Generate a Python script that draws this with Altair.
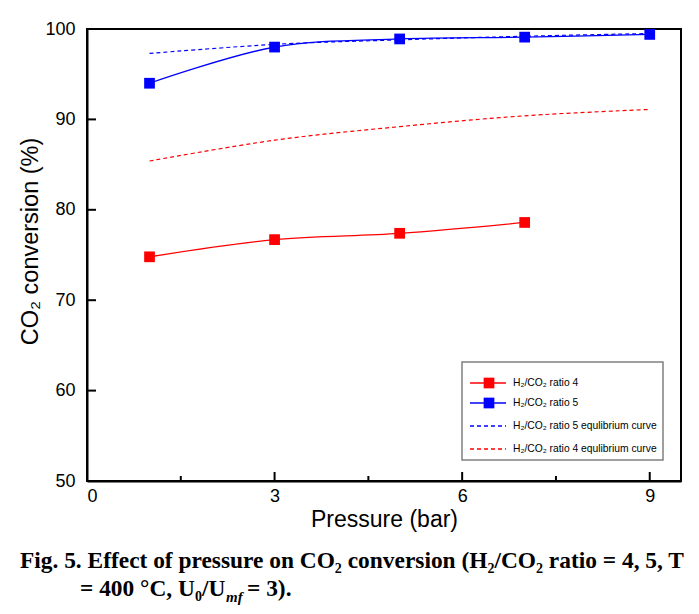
import altair as alt
import pandas as pd

# ---- data ----
pressure_r4 = [1, 3, 5, 7]
conv_r4 = [74.8, 76.7, 77.4, 78.6]
pressure_r5 = [1, 3, 5, 7, 9]
conv_r5 = [94.0, 98.0, 98.9, 99.1, 99.4]
pressure_eq = [1, 3, 5, 7, 9]
eq_r5 = [97.3, 98.3, 98.8, 99.2, 99.5]
eq_r4 = [85.4, 87.7, 89.2, 90.4, 91.1]
x_labels = [0, 3, 6, 9]
x_major = [3, 6, 9]
x_minor = [1.5, 4.5, 7.5]
y_labels = [50, 60, 70, 80, 90, 100]
y_major = [60, 70, 80, 90]
legend_labels = [
    "H₂/CO₂ ratio 4",
    "H₂/CO₂ ratio 5",
    "H₂/CO₂ ratio 5 equlibrium curve",
    "H₂/CO₂ ratio 4 equlibrium curve",
]
caption_line1 = "Fig. 5. Effect of pressure on CO₂ conversion (H₂/CO₂ ratio = 4, 5, T"
caption_line2a = "= 400 °C, U₀/U"
caption_line2b = "mf"
caption_line2c = "= 3)."

W, H = 594, 452
RED = "#ff0000"
BLUE = "#0000ff"
FONT = "Liberation Sans"
SERIF = "Liberation Serif"

xs = alt.Scale(domain=[0, 9.5], nice=False, zero=False)
ys = alt.Scale(domain=[50, 100], nice=False, zero=False)

df4 = pd.DataFrame({"p": pressure_r4, "c": conv_r4})
df5 = pd.DataFrame({"p": pressure_r5, "c": conv_r5})
dfe5 = pd.DataFrame({"p": pressure_eq, "c": eq_r5})
dfe4 = pd.DataFrame({"p": pressure_eq, "c": eq_r4})
one = pd.DataFrame({"a": [0]})

x_axis = alt.Axis(values=x_labels, title="Pressure (bar)", ticks=False, grid=False,
                  labelFont=FONT, labelFontSize=18, labelColor="black", labelPadding=6,
                  titleFont=FONT, titleFontSize=23, titleFontWeight="normal", titleColor="black",
                  titlePadding=3, domainColor="black", domainWidth=2, format="d")
y_axis = alt.Axis(values=y_labels, title="CO₂ conversion (%)", ticks=False, grid=False,
                  labelFont=FONT, labelFontSize=18, labelColor="black", labelPadding=12,
                  titleFont=FONT, titleFontSize=23.5, titleFontWeight="normal", titleColor="black",
                  titlePadding=2, titleY=212, domainColor="black", domainWidth=2, format="d")


def X(field):
    return alt.X(field, scale=xs, axis=x_axis, title="Pressure (bar)")


def Y(field):
    return alt.Y(field, scale=ys, axis=y_axis, title="CO₂ conversion (%)")


line4 = alt.Chart(df4).mark_line(color=RED, strokeWidth=1.3, interpolate="catmull-rom").encode(
    x=X("p:Q"), y=Y("c:Q"))
pts4 = alt.Chart(df4).mark_point(shape="square", filled=True, color=RED, size=115, opacity=1).encode(
    x=X("p:Q"), y=Y("c:Q"))
line5 = alt.Chart(df5).mark_line(color=BLUE, strokeWidth=1.3, interpolate="catmull-rom").encode(
    x=X("p:Q"), y=Y("c:Q"))
pts5 = alt.Chart(df5).mark_point(shape="square", filled=True, color=BLUE, size=115, opacity=1).encode(
    x=X("p:Q"), y=Y("c:Q"))
eq5 = alt.Chart(dfe5).mark_line(color=BLUE, strokeWidth=1.2, strokeDash=[4, 3], interpolate="cardinal").encode(
    x=X("p:Q"), y=Y("c:Q"))
eq4 = alt.Chart(dfe4).mark_line(color=RED, strokeWidth=1.2, strokeDash=[4, 3], interpolate="cardinal").encode(
    x=X("p:Q"), y=Y("c:Q"))

# inward ticks
xt_major = alt.Chart(pd.DataFrame({"p": x_major})).mark_rule(color="black", strokeWidth=2).encode(
    x=X("p:Q"), y=alt.value(H), y2=alt.value(H - 9))
xt_minor = alt.Chart(pd.DataFrame({"p": x_minor})).mark_rule(color="black", strokeWidth=2).encode(
    x=X("p:Q"), y=alt.value(H), y2=alt.value(H - 5))
yt_major = alt.Chart(pd.DataFrame({"c": y_major})).mark_rule(color="black", strokeWidth=2).encode(
    y=Y("c:Q"), x=alt.value(0), x2=alt.value(9))

# legend (manual)
LX0, LX1, LY0, LY1 = 375, 576, 333, 431
rows = [354, 374, 397, 420]
leg_box = alt.Chart(one).mark_rect(fill="white", stroke="#808080", strokeWidth=1.5).encode(
    x=alt.value(LX0), x2=alt.value(LX1), y=alt.value(LY0), y2=alt.value(LY1))
legend_layers = [leg_box]
styles = [(RED, None, True), (BLUE, None, True), (BLUE, [4, 3], False), (RED, [4, 3], False)]
for i, (col, dash, marker) in enumerate(styles):
    kw = dict(color=col, strokeWidth=1.3)
    if dash:
        kw["strokeDash"] = dash
    legend_layers.append(alt.Chart(one).mark_rule(**kw).encode(
        x=alt.value(383), x2=alt.value(419), y=alt.value(rows[i])))
    if marker:
        legend_layers.append(alt.Chart(one).mark_point(shape="square", filled=True, color=col,
                                                       size=115, opacity=1).encode(
            x=alt.value(402), y=alt.value(rows[i])))
    legend_layers.append(alt.Chart(one).mark_text(text=legend_labels[i], font=FONT, fontSize=10.3,
                                                  align="left", baseline="middle", color="black").encode(
        x=alt.value(426), y=alt.value(rows[i])))

# caption
cap_kw = dict(font=SERIF, fontWeight="bold", fontSize=23.4, align="left", baseline="alphabetic", color="black")
cap1 = alt.Chart(one).mark_text(text=caption_line1, **cap_kw).encode(x=alt.value(-67), y=alt.value(539))
cap2a = alt.Chart(one).mark_text(text=caption_line2a, **cap_kw).encode(x=alt.value(-7), y=alt.value(567))
cap2b = alt.Chart(one).mark_text(text=caption_line2b, font=SERIF, fontWeight="bold", fontStyle="italic",
                                 fontSize=15, align="left", baseline="alphabetic", color="black").encode(
    x=alt.value(139), y=alt.value(573))
cap2c = alt.Chart(one).mark_text(text=caption_line2c, **cap_kw).encode(x=alt.value(160), y=alt.value(567))

chart = alt.layer(
    eq5, eq4, line4, line5, pts4, pts5, xt_major, xt_minor, yt_major,
    *legend_layers, cap1, cap2a, cap2b, cap2c,
).properties(
    width=W, height=H,
    autosize=alt.AutoSizeParams(type="none"),
    padding={"left": 79, "top": 21, "right": 10, "bottom": 125},
).configure_view(stroke="black", strokeWidth=2)

chart.save("out.html", embed_options={"renderer": "svg", "actions": False})
